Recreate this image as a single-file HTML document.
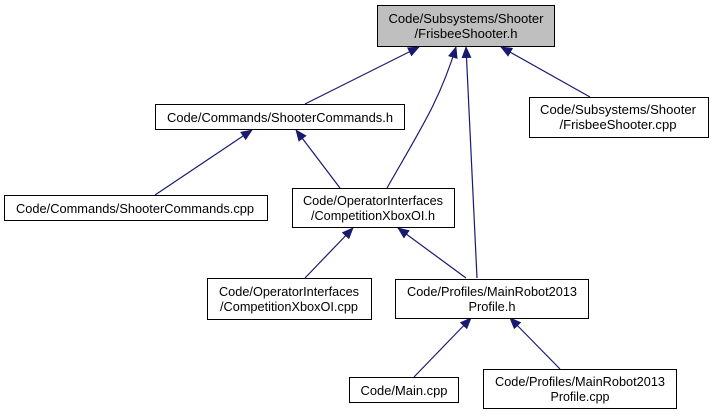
<!DOCTYPE html>
<html><head><meta charset="utf-8"><style>
html,body{margin:0;padding:0;background:#fff;}
svg{display:block;}
text{font-family:"Liberation Sans",Arial,sans-serif;font-size:13px;fill:#000;}
</style></head><body>
<svg width="713" height="416" viewBox="0 0 713 416" xmlns="http://www.w3.org/2000/svg">
<defs>
<marker id="a" markerWidth="12" markerHeight="10" refX="11" refY="5" orient="auto" markerUnits="userSpaceOnUse">
<path d="M0,0 L12,5 L0,10 Z" fill="#191970"/>
</marker>
</defs>
<g stroke="#191970" stroke-width="1.2" fill="none" marker-end="url(#a)">
<path d="M305,104 L419,47"/>
<path d="M387,188 C420,130 440,100 456,47"/>
<path d="M477,278 L466,47"/>
<path d="M590,97 L501,47"/>
<path d="M155,195 L252,130"/>
<path d="M340,188 L296,130"/>
<path d="M305,278 L353,228"/>
<path d="M466,278 L398,228"/>
<path d="M414,377 L471,318"/>
<path d="M560,369 L510,318"/>
</g>
<g stroke="#000" stroke-width="1">
<rect x="377.5" y="5.5" width="177" height="41" fill="#bfbfbf"/>
<rect x="155.5" y="104.5" width="249" height="25" fill="#fff"/>
<rect x="529.5" y="97.5" width="179" height="40" fill="#fff"/>
<rect x="4.5" y="195.5" width="263" height="25" fill="#fff"/>
<rect x="292.5" y="188.5" width="162" height="39" fill="#fff"/>
<rect x="207.5" y="278.5" width="164" height="41" fill="#fff"/>
<rect x="395.5" y="279.5" width="193" height="39" fill="#fff"/>
<rect x="349.5" y="377.5" width="109" height="25" fill="#fff"/>
<rect x="483.5" y="369.5" width="193" height="39" fill="#fff"/>
</g>
<g text-anchor="middle">
<text x="466" y="23" textLength="155" lengthAdjust="spacingAndGlyphs">Code/Subsystems/Shooter</text>
<text x="466" y="38" textLength="103" lengthAdjust="spacingAndGlyphs">/FrisbeeShooter.h</text>
<text x="280" y="122" textLength="226" lengthAdjust="spacingAndGlyphs">Code/Commands/ShooterCommands.h</text>
<text x="618" y="114" textLength="156" lengthAdjust="spacingAndGlyphs">Code/Subsystems/Shooter</text>
<text x="618" y="129" textLength="117" lengthAdjust="spacingAndGlyphs">/FrisbeeShooter.cpp</text>
<text x="135" y="213" textLength="238" lengthAdjust="spacingAndGlyphs">Code/Commands/ShooterCommands.cpp</text>
<text x="373" y="205" textLength="140" lengthAdjust="spacingAndGlyphs">Code/OperatorInterfaces</text>
<text x="373" y="220" textLength="124" lengthAdjust="spacingAndGlyphs">/CompetitionXboxOI.h</text>
<text x="289" y="296" textLength="140" lengthAdjust="spacingAndGlyphs">Code/OperatorInterfaces</text>
<text x="289" y="311" textLength="138" lengthAdjust="spacingAndGlyphs">/CompetitionXboxOI.cpp</text>
<text x="492" y="296" textLength="170" lengthAdjust="spacingAndGlyphs">Code/Profiles/MainRobot2013</text>
<text x="492" y="311" textLength="47" lengthAdjust="spacingAndGlyphs">Profile.h</text>
<text x="404" y="395" textLength="87" lengthAdjust="spacingAndGlyphs">Code/Main.cpp</text>
<text x="580" y="386" textLength="170" lengthAdjust="spacingAndGlyphs">Code/Profiles/MainRobot2013</text>
<text x="580" y="401" textLength="59" lengthAdjust="spacingAndGlyphs">Profile.cpp</text>
</g>
</svg>
</body></html>
